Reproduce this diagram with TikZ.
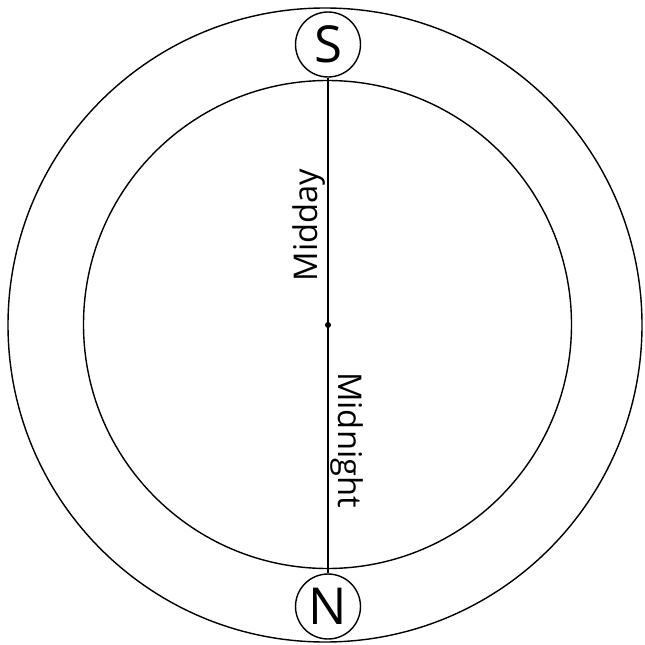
\documentclass[tikz,border=0pt]{standalone}
\usepackage{fontspec}
\setmainfont{Open Sans}
\usetikzlibrary{positioning}
\tikzset{
  pole/.style={circle,draw,fill=white,line width=0.8pt,minimum size=1.3cm,inner sep=0pt,font=\fontsize{29}{30}\selectfont},
  timelabel/.style={inner sep=0pt,anchor=south,font=\fontsize{18.6}{20}\selectfont}
}

\begin{document}
\begin{tikzpicture}[x=0.02cm,y=-0.02cm]
\useasboundingbox (0,0) rectangle (645,645);
\coordinate (c) at (327,325);
\draw[line width=0.8pt] (325,325) circle (317);
\draw[line width=0.8pt] (327.5,324.5) circle (244);
\node[pole] (S) at (328,44.5) {S};
\node[pole] (N) at (328,606.5) {N};
\draw[line width=1.6pt] (S.south) -- (N.north);
\fill (S.south |- c) circle (3);
\node[timelabel,rotate=90] (midday) at (326,225) {Midday};
\node[timelabel,rotate=-90] (midnight) at (330,440) {Midnight};
\end{tikzpicture}
\end{document}
